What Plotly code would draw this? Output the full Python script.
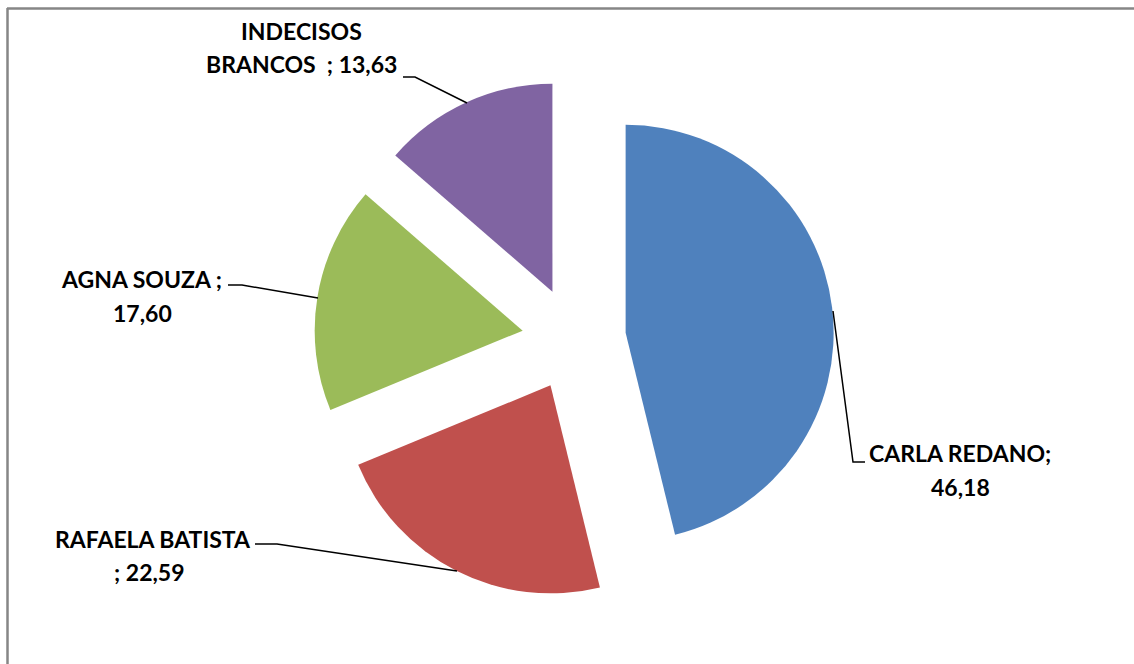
import plotly.graph_objects as go

labels = ["CARLA REDANO", "RAFAELA BATISTA", "AGNA SOUZA", "INDECISOS BRANCOS"]
values = [46.18, 22.59, 17.60, 13.63]
colors = ["#4F81BD", "#C0504D", "#9BBB59", "#8064A2"]
label_lines = [
    ["CARLA REDANO;", "46,18"],
    ["RAFAELA BATISTA", "; 22,59"],
    ["AGNA SOUZA ;", "17,60"],
    ["INDECISOS", "BRANCOS\u00a0 ; 13,63"],
]

W, H = 1134, 664


def px(x):
    return x / W


def py(y):
    return 1 - y / H


fig = go.Figure()
fig.add_trace(go.Pie(
    labels=labels,
    values=values,
    marker=dict(colors=colors, line=dict(width=0)),
    sort=False,
    direction="clockwise",
    rotation=0,
    pull=[0.25] * len(values),
    textinfo="none",
    hoverinfo="skip",
    showlegend=False,
    domain=dict(x=[px(314), px(834)], y=[py(599), py(79)]),
))

# label text positions (pixel centres of each text line)
label_pos = [
    [(960, 453), (960, 487)],
    [(153, 539), (149, 572)],
    [(141, 279), (142, 313)],
    [(301, 31), (301, 64)],
]
font = dict(family="Lato", size=23, color="#000000")
annotations = []
for lines, pos in zip(label_lines, label_pos):
    for txt, (x, y) in zip(lines, pos):
        annotations.append(dict(
            x=px(x), y=py(y), xref="paper", yref="paper",
            text="<b>%s</b>" % txt, showarrow=False,
            xanchor="center", yanchor="middle", font=font,
        ))

leaders = [
    [(833, 311), (853, 462), (865, 462)],
    [(255, 544), (277, 544), (457, 571)],
    [(228, 285), (242, 285), (318, 298)],
    [(403, 77), (415, 77), (467, 103)],
]
shapes = []
for pts in leaders:
    path = "M %f,%f" % (px(pts[0][0]), py(pts[0][1]))
    for (x, y) in pts[1:]:
        path += " L %f,%f" % (px(x), py(y))
    shapes.append(dict(type="path", path=path, xref="paper", yref="paper",
                       line=dict(color="#000000", width=1.5)))

# chart border (top and left visible)
shapes.append(dict(type="line", xref="paper", yref="paper",
                   x0=px(7), y0=py(8.5), x1=1, y1=py(8.5),
                   line=dict(color="#868686", width=2.5)))
shapes.append(dict(type="line", xref="paper", yref="paper",
                   x0=px(7.5), y0=py(8), x1=px(7.5), y1=0,
                   line=dict(color="#868686", width=2.5)))

fig.update_layout(
    width=W, height=H,
    margin=dict(l=0, r=0, t=0, b=0),
    paper_bgcolor="#FFFFFF",
    plot_bgcolor="#FFFFFF",
    annotations=annotations,
    shapes=shapes,
)

fig.write_html(
    "out.html",
    config={"displayModeBar": False},
    post_script="document.body.style.margin='0';document.body.style.overflow='hidden';",
)
